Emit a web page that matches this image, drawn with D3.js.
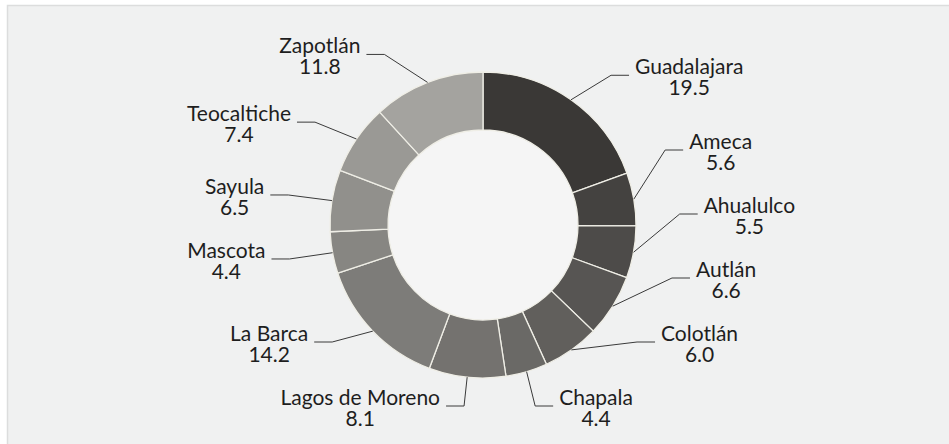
<!DOCTYPE html>
<html>
<head>
<meta charset="utf-8">
<script src="https://cdn.jsdelivr.net/npm/d3@7"></script>
<style>
  body { margin: 0; background: #fff; }
  svg { display: block; font-family: Lato, "Noto Sans", sans-serif; }
</style>
</head>
<body>
<svg id="chart" width="949" height="444"></svg>
<script>
// regiones sanitarias, porcentaje
var categories = ["Guadalajara", "Ameca", "Ahualulco", "Autlán", "Colotlán", "Chapala",
                  "Lagos de Moreno", "La Barca", "Mascota", "Sayula", "Teocaltiche", "Zapotlán"];
var values = [19.5, 5.6, 5.5, 6.6, 6.0, 4.4, 8.1, 14.2, 4.4, 6.5, 7.4, 11.8];
var valueLabels = ["19.5", "5.6", "5.5", "6.6", "6.0", "4.4", "8.1", "14.2", "4.4", "6.5", "7.4", "11.8"];

var svg = d3.select("#chart");
var width = 949, height = 444;
var cx = 483, cy = 225, outerR = 153, innerR = 95;

// panel
svg.append("rect")
  .attr("x", 7.5).attr("y", 5.5)
  .attr("width", width).attr("height", height)
  .attr("fill", "#f0f1f1")
  .attr("stroke", "#dcdddd")
  .attr("stroke-width", 1.5);

var color = d3.scaleLinear()
  .domain([0, categories.length - 1])
  .range(["#3a3836", "#a4a39f"])
  .interpolate(d3.interpolateRgb);

var pie = d3.pie().sort(null).value(function(d) { return d; });
var arcs = pie(values);
var arc = d3.arc().innerRadius(innerR).outerRadius(outerR);

var g = svg.append("g").attr("transform", "translate(" + cx + "," + cy + ")");

g.append("circle").attr("r", innerR).attr("fill", "#f5f5f5");

g.selectAll("path.slice")
  .data(arcs)
  .enter().append("path")
  .attr("class", "slice")
  .attr("d", arc)
  .attr("fill", function(d, i) { return color(i); })
  .attr("stroke", "#efeee6")
  .attr("stroke-width", 1.3);

// label layout
var natR = outerR + 30, elbowR = 197, gap = 64, loY = 54, hiY = 406, hSeg = 18, pad = 6;

var items = arcs.map(function(a, i) {
  var m = (a.startAngle + a.endAngle) / 2;
  return { i: i, m: m, side: Math.sin(m) >= 0 ? 1 : -1,
           y0: Math.max(loY, Math.min(hiY, cy - natR * Math.cos(m))) };
});

function distribute(list) {
  var clusters = list.map(function(d) { return { items: [d] }; });
  var changed = true;
  while (changed) {
    changed = false;
    clusters.forEach(function(c) {
      var n = c.items.length;
      var mean = d3.mean(c.items, function(d) { return d.y0; });
      var top = mean - (n - 1) * gap / 2;
      top = Math.max(loY, Math.min(hiY - (n - 1) * gap, top));
      c.top = top; c.bottom = top + (n - 1) * gap;
    });
    for (var k = 0; k < clusters.length - 1; k++) {
      if (clusters[k + 1].top - clusters[k].bottom < gap) {
        clusters[k].items = clusters[k].items.concat(clusters[k + 1].items);
        clusters.splice(k + 1, 1);
        changed = true;
        break;
      }
    }
  }
  clusters.forEach(function(c) {
    c.items.forEach(function(d, j) { d.y = c.top + j * gap; });
  });
}

[1, -1].forEach(function(side) {
  var list = items.filter(function(d) { return d.side === side; })
                  .sort(function(a, b) { return a.y0 - b.y0; });
  distribute(list);
  list.forEach(function(d) {
    var dy = d.y - cy;
    if (dy < 0) {
      d.ex = cx + side * Math.sqrt(Math.max(0, elbowR * elbowR - dy * dy));
    }
  });
  // lower half: ellipse through the lowest label
  var low = list.filter(function(d) { return d.y >= cy; });
  if (low.length) {
    var ext = low[low.length - 1];
    var dxExt = natR * Math.abs(Math.sin(ext.m));
    var rB = (ext.y - cy) / Math.sqrt(1 - Math.pow(dxExt / elbowR, 2));
    low.forEach(function(d) {
      var dy = d.y - cy;
      d.ex = cx + side * elbowR * Math.sqrt(Math.max(0, 1 - Math.pow(dy / rB, 2)));
    });
  }
});

var labels = svg.append("g");

items.forEach(function(d) {
  var sx = cx + outerR * Math.sin(d.m), sy = cy - outerR * Math.cos(d.m);
  var ax = d.ex + d.side * hSeg;
  labels.append("path")
    .attr("d", "M" + sx + "," + sy + "L" + d.ex + "," + d.y + "L" + ax + "," + d.y)
    .attr("fill", "none")
    .attr("stroke", "#3a3a3a")
    .attr("stroke-width", 1);

  var t = labels.append("g");
  var name = t.append("text")
    .attr("y", d.y - 1)
    .attr("text-anchor", "middle")
    .attr("font-size", 21)
    .attr("fill", "#1e1e1e")
    .text(categories[d.i]);
  var val = t.append("text")
    .attr("y", d.y + 20)
    .attr("text-anchor", "middle")
    .attr("font-size", 21)
    .attr("fill", "#1e1e1e")
    .text(valueLabels[d.i]);
  var w = Math.max(name.node().getComputedTextLength(), val.node().getComputedTextLength());
  var mx = d.side > 0 ? ax + pad + w / 2 : ax - pad - w / 2;
  name.attr("x", mx);
  val.attr("x", mx);
});
</script>
</body>
</html>
